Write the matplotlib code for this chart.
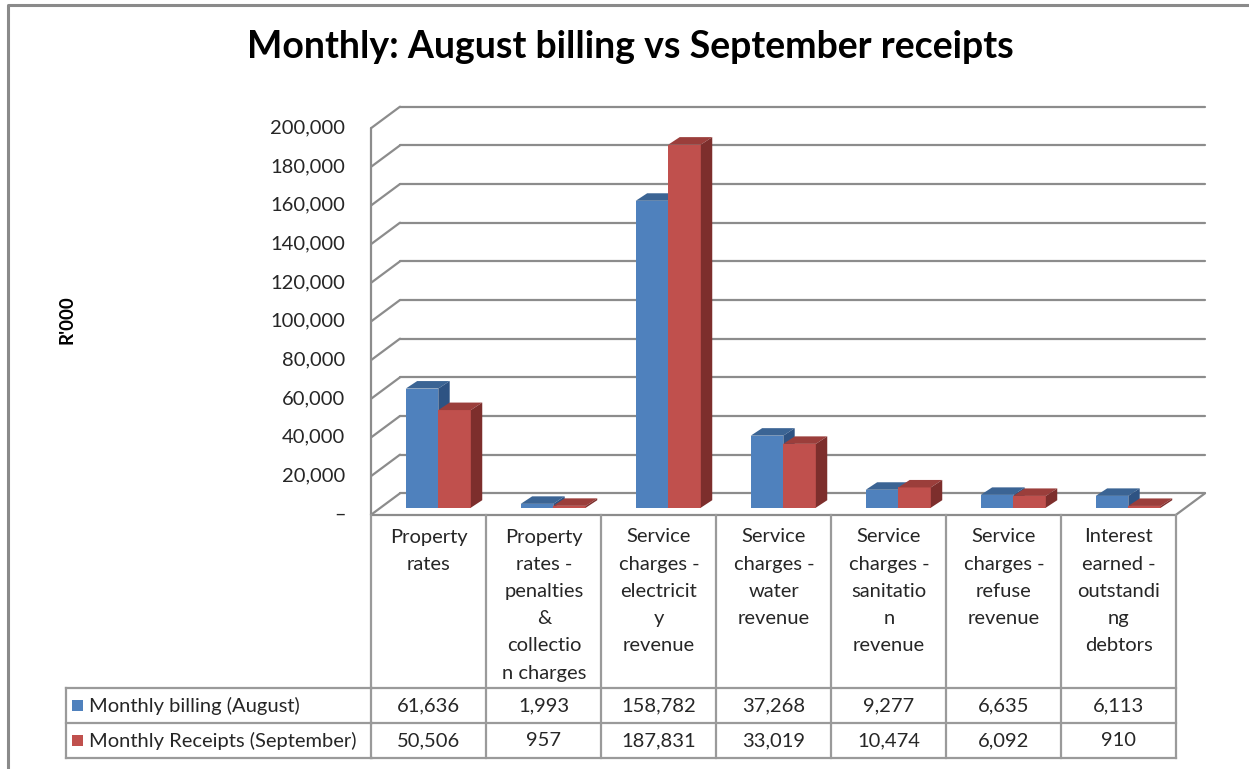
import matplotlib
matplotlib.use("Agg")
import matplotlib.pyplot as plt
from matplotlib.lines import Line2D
from matplotlib.patches import Polygon, Rectangle
from matplotlib import transforms

# ---------------- data ----------------
categories = [
    "Property\nrates",
    "Property\nrates -\npenalties\n&\ncollectio\nn charges",
    "Service\ncharges -\nelectricit\ny\nrevenue",
    "Service\ncharges -\nwater\nrevenue",
    "Service\ncharges -\nsanitatio\nn\nrevenue",
    "Service\ncharges -\nrefuse\nrevenue",
    "Interest\nearned -\noutstandi\nng\ndebtors",
]
billing_august = [61636, 1993, 158782, 37268, 9277, 6635, 6113]
receipts_september = [50506, 957, 187831, 33019, 10474, 6092, 910]
series_names = ["Monthly billing (August)", "Monthly Receipts (September)"]
y_ticks = [0, 20000, 40000, 60000, 80000, 100000, 120000, 140000, 160000, 180000, 200000]
title = "Monthly: August billing vs September receipts"
y_label = "R'000"

# ---------------- style ----------------
W, H = 1249, 769
FONT = "Lato"
plt.rcParams["font.family"] = [FONT, "DejaVu Sans"]
face_cols = [("#4f81bd", "#3b6494", "#2e5383"), ("#c0504d", "#9b3e3b", "#7d2e2c")]
grid_col = "#8c8c8c"
tab_col = "#9a9a9a"
txt_col = "#262626"
FS = 14.5

fig = plt.figure(figsize=(W / 100, H / 100), dpi=100)

def fx(px):
    return px / W

def fy(py):
    return 1 - py / H

# axes in the plane of the bars' front faces
ax = fig.add_axes([fx(380.8), fy(507.7), fx(805), 386.6 / H])
ax.set_xlim(-0.5, len(categories) - 0.5)
ax.set_ylim(0, 200000)
ax.axis("off")

# depth offsets (data units) relative to bar plane
px_per_cat = 115.0
val_per_px = 200000 / 386.6
back_dx, back_dy = 19.2 / px_per_cat, 14.4 * val_per_px
front_dx, front_dy = -9.4 / px_per_cat, -6.8 * val_per_px
bar_dx, bar_dy = 11.4 / px_per_cat, 7.5 * val_per_px
n = len(categories)
x_lo, x_hi = -0.5, n - 0.5

gkw = dict(color=grid_col, lw=1.6, clip_on=False, zorder=1, solid_capstyle="round")
# back wall gridlines + left wall diagonals
for v in y_ticks:
    ax.plot([x_lo + back_dx, x_hi + back_dx], [v + back_dy, v + back_dy], **gkw)
    ax.plot([x_lo + front_dx, x_lo + back_dx], [v + front_dy, v + back_dy], **gkw)
# left wall front edge
ax.plot([x_lo + front_dx, x_lo + front_dx], [front_dy, y_ticks[-1] + front_dy], **gkw)
# floor
ax.plot([x_lo + front_dx, x_hi + front_dx], [front_dy, front_dy], **gkw)
ax.plot([x_hi + front_dx, x_hi + back_dx], [front_dy, back_dy], **gkw)

# tick labels at the front plane
for v in y_ticks:
    lab = "\u2013" if v == 0 else f"{v:,}"
    ax.annotate(lab, (x_lo + front_dx, v + front_dy), xytext=(-26, 0),
                textcoords="offset pixels", ha="right", va="center",
                fontsize=FS, color=txt_col, annotation_clip=False)

# bars (faux 3-D)
bw = 0.283
for i in range(n):
    for s, vals in enumerate([billing_august, receipts_september]):
        h = vals[i]
        x0 = i - bw + s * bw
        x1 = x0 + bw
        front, top, side = face_cols[s]
        ax.add_patch(Rectangle((x0, 0), bw, h, facecolor=front, edgecolor="none",
                               zorder=3 + 2 * s, clip_on=False))
        ax.add_patch(Polygon([(x0, h), (x1, h), (x1 + bar_dx, h + bar_dy), (x0 + bar_dx, h + bar_dy)],
                             closed=True, facecolor=top, edgecolor="none", zorder=3 + 2 * s, clip_on=False))
        ax.add_patch(Polygon([(x1, 0), (x1 + bar_dx, bar_dy), (x1 + bar_dx, h + bar_dy), (x1, h)],
                             closed=True, facecolor=side, edgecolor="none", zorder=3 + 2 * s, clip_on=False))

# ---------------- data table ----------------
bt = transforms.blended_transform_factory(ax.transData, fig.transFigure)
floor_y, row1_y, row2_y, row3_y = 514.5, 688.3, 723.0, 758.0
tkw = dict(color=tab_col, lw=1.6, solid_capstyle="projecting")
col_x = [i - 0.5 + front_dx for i in range(n + 1)]
for cx in col_x:
    fig.add_artist(Line2D([cx, cx], [fy(floor_y), fy(row3_y)], transform=bt, **tkw))
for ry in (row1_y, row2_y, row3_y):
    fig.add_artist(Line2D([fx(66), fx(372)], [fy(ry), fy(ry)], transform=fig.transFigure, **tkw))
    fig.add_artist(Line2D([col_x[0], col_x[-1]], [fy(ry), fy(ry)], transform=bt, **tkw))
fig.add_artist(Line2D([fx(66), fx(66)], [fy(row1_y), fy(row3_y)], transform=fig.transFigure, **tkw))

# header category labels
for i, cat in enumerate(categories):
    cx = i + front_dx
    for k, line in enumerate(cat.split("\n")):
        fig.text(cx, fy(537 + 27.2 * k), line, transform=bt, ha="center", va="center",
                 fontsize=FS, color=txt_col)

# data rows
for r, (vals, ry) in enumerate([(billing_august, row1_y), (receipts_september, row2_y)]):
    cy = fy(ry + 17.5)
    for i, v in enumerate(vals):
        fig.text(i + front_dx, cy, f"{v:,}", transform=bt, ha="center", va="center",
                 fontsize=FS, color=txt_col)
    fig.add_artist(Rectangle((fx(72.3), fy(ry + 23)), fx(11), 11 / H, transform=fig.transFigure,
                             facecolor=face_cols[r][0], edgecolor="none"))
    fig.text(fx(89), cy, series_names[r], ha="left", va="center", fontsize=FS, color=txt_col)

# title and axis label
fig.text(fx(630), fy(47), title, ha="center", va="center", fontsize=27, fontweight="bold", color="black")
fig.text(fx(67), fy(320), y_label, ha="center", va="center", rotation=90, fontsize=13.5,
         fontweight="bold", color="black")

# outer chart frame
fig.add_artist(Line2D([fx(8), fx(8), fx(W + 5)], [fy(H + 5), fy(5), fy(5)],
                      transform=fig.transFigure, color="#8a8a8a", lw=2.2))

fig.savefig("out.png", dpi=100)
